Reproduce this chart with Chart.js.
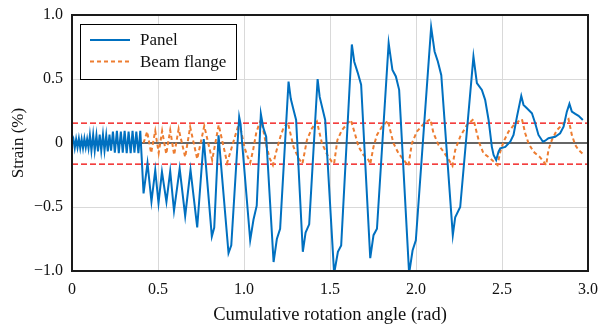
<!DOCTYPE html>
<html>
<head>
<meta charset="utf-8">
<title>Strain vs cumulative rotation</title>
<script src="https://cdn.jsdelivr.net/npm/chart.js@4.4.1/dist/chart.umd.min.js"></script>
<style>
  html, body { margin: 0; padding: 0; background: #fff; }
  #strainChart { display: block; }
</style>
</head>
<body>
<canvas id="strainChart" width="601" height="330"></canvas>
<script>

//Panel strain readings (cumulative rotation in rad, strain in %)
var panelAngle = [
  0, 0.008, 0.016, 0.024, 0.032, 0.040, 0.048, 0.056, 0.064, 0.072, 0.080, 0.088, 0.096,
  0.104, 0.113, 0.123, 0.132, 0.142, 0.151, 0.161, 0.170, 0.180, 0.189, 0.199, 0.208, 0.218, 0.227,
  0.238, 0.249, 0.261, 0.272, 0.284, 0.295, 0.306, 0.318, 0.329, 0.341, 0.352, 0.363, 0.374, 0.386, 0.397,
  0.416, 0.439, 0.462, 0.484, 0.503, 0.523, 0.549, 0.571, 0.593, 0.626, 0.658, 0.689, 0.728, 0.766,
  0.813, 0.827, 0.852, 0.910, 0.926, 0.972, 0.980,
  1.036, 1.055, 1.074, 1.098, 1.112, 1.129, 1.172, 1.191, 1.210, 1.259, 1.272, 1.286, 1.303,
  1.342, 1.358, 1.379, 1.428, 1.440, 1.455, 1.472, 1.524, 1.546, 1.565, 1.627, 1.641, 1.661, 1.681,
  1.734, 1.753, 1.773, 1.841, 1.863, 1.883, 1.902, 1.960, 1.980, 1.999, 2.088, 2.108, 2.127, 2.147,
  2.214, 2.228, 2.257, 2.334, 2.354, 2.383, 2.402, 2.422, 2.441, 2.451, 2.466, 2.480, 2.490,
  2.519, 2.548, 2.567, 2.587, 2.612, 2.625, 2.645, 2.674, 2.693, 2.712, 2.738, 2.751, 2.770,
  2.809, 2.838, 2.858, 2.877, 2.892, 2.906, 2.926, 2.945, 2.970
];
var panelStrain = [
  0, 0.03, -0.04, 0.03, -0.035, 0.035, -0.04, 0.03, -0.04, 0.035, -0.035, 0.03, -0.04,
  0.06, -0.06, 0.065, -0.06, 0.06, -0.065, 0.065, -0.06, 0.065, -0.06, 0.06, -0.065, 0.065, -0.06,
  0.09, -0.075, 0.095, -0.08, 0.09, -0.075, 0.095, -0.08, 0.09, -0.08, 0.095, -0.075, 0.09, -0.08, 0.095,
  -0.394, -0.157, -0.457, -0.212, -0.47, -0.225, -0.46, -0.22, -0.53, -0.2, -0.57, -0.21, -0.66, 0.03,
  -0.73, -0.66, 0.06, -0.86, -0.80, 0.205, 0.15,
  -0.76, -0.60, -0.49, 0.227, 0.12, 0.05, -0.93, -0.75, -0.67, 0.48, 0.345, 0.27, 0.18,
  -0.85, -0.70, -0.635, 0.50, 0.36, 0.275, 0.18, -1.02, -0.85, -0.80, 0.77, 0.635, 0.55, 0.455,
  -0.90, -0.72, -0.67, 0.78, 0.57, 0.52, 0.415, -1.02, -0.84, -0.76, 0.905, 0.715, 0.637, 0.53,
  -0.72, -0.58, -0.50, 0.675, 0.468, 0.415, 0.337, 0.18, -0.03, -0.094, -0.133, -0.068, -0.042,
  -0.03, 0.01, 0.063, 0.206, 0.368, 0.298, 0.272, 0.233, 0.154, 0.063, 0.01, 0.018, 0.037,
  0.049, 0.076, 0.128, 0.245, 0.306, 0.245, 0.227, 0.212, 0.18
];

//Beam flange strain readings
var flangeAngle = [
  0.416, 0.437, 0.460, 0.484, 0.504, 0.524, 0.548, 0.571, 0.594, 0.620, 0.658, 0.687, 0.728,
  0.769, 0.815, 0.853, 0.902, 0.972, 0.987, 1.004, 1.022, 1.036, 1.053, 1.071, 1.088, 1.098,
  1.112, 1.129, 1.149, 1.168, 1.187, 1.211, 1.230, 1.255, 1.288, 1.317, 1.340, 1.366, 1.395, 1.424,
  1.453, 1.485, 1.511, 1.524, 1.543, 1.569, 1.598, 1.621, 1.647, 1.666, 1.695, 1.724, 1.734,
  1.753, 1.773, 1.802, 1.837, 1.850, 1.869, 1.898, 1.937, 1.956, 1.976, 2.005, 2.044, 2.083,
  2.102, 2.131, 2.160, 2.188, 2.212, 2.228, 2.257, 2.296, 2.334, 2.354, 2.369, 2.392, 2.431, 2.474,
  2.490, 2.509, 2.538, 2.577, 2.616, 2.635, 2.654, 2.683, 2.722, 2.757, 2.770, 2.790, 2.819, 2.858,
  2.887, 2.906, 2.926, 2.945, 2.971
];
var flangeStrain = [
  0, 0.089, -0.078, 0.094, -0.078, 0.094, -0.086, 0.10, -0.094, 0.11, -0.11, 0.125, -0.125,
  0.133, -0.133, 0.141, -0.154, 0.16, 0.07, -0.04, -0.11, -0.155, -0.055, 0.078, 0.149, 0.18,
  0.10, -0.016, -0.118, -0.172, -0.07, 0.047, 0.12, 0.16, -0.03, -0.12, -0.16, 0.024, 0.115, 0.167,
  -0.002, -0.094, -0.147, -0.16, 0.024, 0.10, 0.147, 0.18, 0.063, -0.029, -0.094, -0.133, -0.165,
  -0.029, 0.063, 0.128, 0.175, 0.10, -0.002, -0.08, -0.147, -0.178, -0.002, 0.089, 0.149, 0.186,
  0.076, -0.016, -0.068, -0.125, -0.178, -0.055, 0.05, 0.141, 0.186, 0.076, -0.002, -0.08, -0.12, -0.172,
  -0.068, 0.01, 0.089, 0.154, 0.186, 0.076, -0.002, -0.068, -0.112, -0.172, -0.055, 0.024, 0.10, 0.154,
  0.186, 0.063, -0.016, -0.055, -0.086
];

//Reference strain levels
var upperLimit = 0.155;
var lowerLimit = -0.165;

//Axis ticks
var angleTicks = [0, 0.5, 1.0, 1.5, 2.0, 2.5, 3.0];
var strainTicks = [-1.0, -0.5, 0, 0.5, 1.0];

var serif = "'Liberation Serif', 'Times New Roman', serif";

function toPoints(xs, ys) {
  return xs.map(function (x, i) {
    return { x: x, y: ys[i] };
  });
}

function tickText(v) {
  if (v == 0) return "0";
  var s = Math.abs(v).toFixed(1);
  return v < 0 ? "\u2212" + s : s;
}

//frame round the plot + legend box in the upper left
var frameAndLegend = {
  id: 'frameAndLegend',
  afterDatasetsDraw: function (chart) {
    var ctx = chart.ctx;
    var area = chart.chartArea;
    ctx.save();
    ctx.strokeStyle = '#1a1a1a';
    ctx.lineWidth = 2;
    ctx.strokeRect(area.left, area.top, area.right - area.left, area.bottom - area.top);

    var bx = 80, by = 24, bw = 156, bh = 55;
    ctx.fillStyle = '#fff';
    ctx.fillRect(bx, by, bw, bh);
    ctx.lineWidth = 1;
    ctx.strokeStyle = '#000';
    ctx.strokeRect(bx + 0.5, by + 0.5, bw, bh);

    var rows = [40, 61.5];
    [0, 1].forEach(function (i) {
      var ds = chart.data.datasets[i];
      ctx.beginPath();
      ctx.strokeStyle = ds.borderColor;
      ctx.lineWidth = ds.borderWidth;
      ctx.setLineDash(ds.borderDash || []);
      ctx.moveTo(90, rows[i]);
      ctx.lineTo(130, rows[i]);
      ctx.stroke();
      ctx.setLineDash([]);
      ctx.fillStyle = '#111';
      ctx.font = "17px " + serif;
      ctx.textBaseline = 'middle';
      ctx.fillText(ds.label, 140, rows[i] + 1);
    });
    ctx.restore();
  }
};

new Chart(document.getElementById("strainChart"), {
  type: 'line',
  data: {
    datasets: [{
      label: "Panel",
      data: toPoints(panelAngle, panelStrain),
      borderColor: "#0070c0",
      borderWidth: 2,
      pointRadius: 0,
      tension: 0
    }, {
      label: "Beam flange",
      data: toPoints(flangeAngle, flangeStrain),
      borderColor: "#ed7d31",
      borderWidth: 2,
      borderDash: [4, 3],
      pointRadius: 0,
      tension: 0
    }, {
      label: "upper",
      data: [{ x: 0, y: upperLimit }, { x: 3, y: upperLimit }],
      borderColor: "#f00000",
      borderWidth: 1.2,
      borderDash: [6, 3],
      pointRadius: 0
    }, {
      label: "lower",
      data: [{ x: 0, y: lowerLimit }, { x: 3, y: lowerLimit }],
      borderColor: "#f00000",
      borderWidth: 1.2,
      borderDash: [6, 3],
      pointRadius: 0
    }, {
      label: "zero",
      data: [{ x: 0, y: 0 }, { x: 3, y: 0 }],
      borderColor: "#666666",
      borderWidth: 2,
      pointRadius: 0
    }]
  },
  options: {
    responsive: false,
    animation: false,
    devicePixelRatio: 1,
    layout: { padding: { top: 15, right: 13, left: 0, bottom: 0 } },
    plugins: {
      legend: { display: false },
      tooltip: { enabled: false }
    },
    scales: {
      x: {
        type: 'linear',
        min: 0,
        max: 3,
        afterBuildTicks: function (scale) {
          scale.ticks = angleTicks.map(function (v) { return { value: v }; });
        },
        afterFit: function (scale) {
          scale.height = 59;
          scale.paddingLeft = 0;
          scale.paddingRight = 0;
        },
        grid: { color: '#d9d9d9', lineWidth: 1, drawTicks: false },
        border: { display: false },
        ticks: {
          padding: 9,
          color: '#111',
          font: { family: serif, size: 16 },
          maxRotation: 0,
          callback: function (v) { return tickText(v); }
        },
        title: {
          display: true,
          text: 'Cumulative rotation angle (rad)',
          color: '#111',
          font: { family: serif, size: 18.5 },
          padding: { top: 2, bottom: 4 }
        }
      },
      y: {
        type: 'linear',
        min: -1,
        max: 1,
        afterBuildTicks: function (scale) {
          scale.ticks = strainTicks.map(function (v) { return { value: v }; });
        },
        afterFit: function (scale) {
          scale.width = 72;
          scale.paddingTop = 0;
          scale.paddingBottom = 0;
        },
        grid: { color: '#d9d9d9', lineWidth: 1, drawTicks: false },
        border: { display: false },
        ticks: {
          padding: 9,
          color: '#111',
          font: { family: serif, size: 16 },
          callback: function (v) { return tickText(v); }
        },
        title: {
          display: true,
          text: 'Strain (%)',
          color: '#111',
          font: { family: serif, size: 17 },
          padding: { top: 8, bottom: 0 }
        }
      }
    }
  },
  plugins: [frameAndLegend]
});
</script>
</body>
</html>
